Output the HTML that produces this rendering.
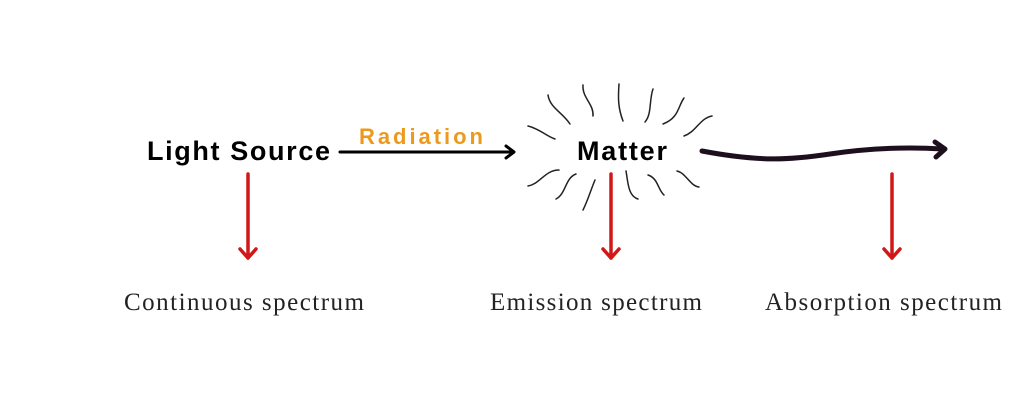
<!DOCTYPE html>
<html><head><meta charset="utf-8"><style>
html,body{margin:0;padding:0;background:#fff;}
svg{display:block;}
</style></head><body>
<svg width="1024" height="416" viewBox="0 0 1024 416" xmlns="http://www.w3.org/2000/svg">
<rect width="1024" height="416" fill="#fff"/>
<text x="147" y="160" font-family="Liberation Sans, sans-serif" font-weight="bold" font-size="27" textLength="183" lengthAdjust="spacing" fill="#000">Light Source</text>
<text x="359" y="144" font-family="Liberation Sans, sans-serif" font-weight="bold" font-size="22" textLength="124" lengthAdjust="spacing" fill="#ec9a1e">Radiation</text>
<text x="577" y="160" font-family="Liberation Sans, sans-serif" font-weight="bold" font-size="27" textLength="90" lengthAdjust="spacing" fill="#000">Matter</text>
<g stroke="#000" stroke-width="3" fill="none" stroke-linecap="round" stroke-linejoin="round">
<line x1="340" y1="152" x2="513" y2="152"/>
<polyline points="506,146 514,152 506,158"/>
</g>
<g stroke="#1d0f1d" stroke-width="5" fill="none" stroke-linecap="round" stroke-linejoin="round">
<path d="M702,151 C760,162 790,160 830,154 C870,148 910,147 943,149"/>
<polyline points="935,142 945,149 936,157"/>
</g>
<g stroke="#d01818" stroke-width="3.5" fill="none" stroke-linecap="round" stroke-linejoin="round">
<line x1="248" y1="174" x2="248" y2="258"/><polyline points="240,249 248,258 256,249"/>
<line x1="611" y1="174" x2="611" y2="258"/><polyline points="603,249 611,258 619,249"/>
<line x1="892" y1="174" x2="892" y2="258"/><polyline points="884,249 892,258 900,249"/>
</g>
<g stroke="#222" stroke-width="1.5" fill="none" stroke-linecap="round">
<path d="M548,95 C550,108 562,112 570,124"/>
<path d="M583,85 C582,98 594,104 593,116"/>
<path d="M619,84 C618,98 618,108 623,121"/>
<path d="M653,89 C649,100 652,114 645,122"/>
<path d="M684,98 C678,106 679,118 663,124"/>
<path d="M712,116 C700,118 696,132 684,136"/>
<path d="M528,126 C540,129 546,136 555,139"/>
<path d="M559,170 C545,170 540,184 528,186"/>
<path d="M576,174 C565,178 566,194 556,199"/>
<path d="M595,180 C590,192 588,200 583,210"/>
<path d="M626,171 C628,182 628,196 638,199"/>
<path d="M648,175 C658,178 658,190 664,195"/>
<path d="M677,171 C686,173 690,186 699,187"/>
</g>
<g font-family="Liberation Serif, serif" font-size="25" fill="#222">
<text x="124" y="310" textLength="240" lengthAdjust="spacing">Continuous spectrum</text>
<text x="490" y="310" textLength="212" lengthAdjust="spacing">Emission spectrum</text>
<text x="765" y="310" textLength="237" lengthAdjust="spacing">Absorption spectrum</text>
</g>
</svg>
</body></html>
